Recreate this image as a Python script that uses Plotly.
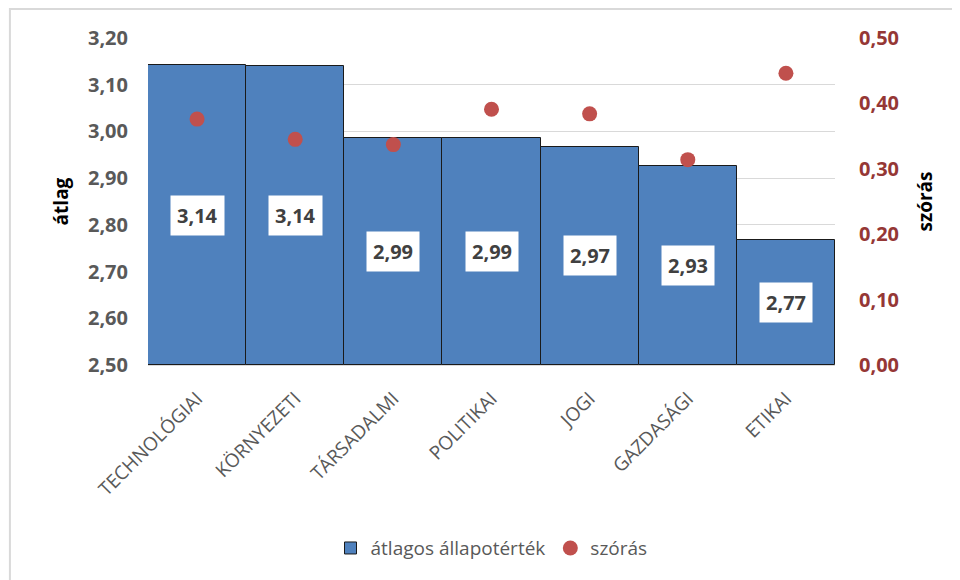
import plotly.graph_objects as go

categories = ["TECHNOLÓGIAI", "KÖRNYEZETI", "TÁRSADALMI", "POLITIKAI", "JOGI", "GAZDASÁGI", "ETIKAI"]
atlag = [3.142, 3.140, 2.987, 2.986, 2.967, 2.927, 2.767]
szoras = [0.376, 0.345, 0.337, 0.391, 0.384, 0.314, 0.446]

FONT = "Open Sans"
base = 2.5

fig = go.Figure()

fig.add_trace(go.Bar(
    x=categories,
    y=[v - base for v in atlag],
    base=base,
    name="átlagos állapotérték",
    marker=dict(color="#4F81BD", line=dict(color="#1a1a1a", width=1)),
    hoverinfo="skip",
))

fig.add_trace(go.Scatter(
    x=categories,
    y=szoras,
    mode="markers",
    name="szórás",
    marker=dict(size=15, color="#C0504D"),
    yaxis="y2",
))

# value labels in white boxes, centred in the bar
for c, v in zip(categories, atlag):
    fig.add_annotation(
        x=c, y=(base + v) / 2,
        xref="x", yref="y",
        text=f"{v:.2f}".replace(".", ","),
        showarrow=False,
        bgcolor="white",
        borderpad=6,
        font=dict(family=FONT, size=20, color="#404040", weight="bold"),
    )

# outer chart frame
fig.add_shape(
    type="rect", xref="paper", yref="paper",
    x0=-0.201, x1=1.4, y0=-1.0, y1=1.089,
    line=dict(color="#D9D9D9", width=2),
    layer="below",
)

fig.update_layout(
    width=960, height=580,
    margin=dict(l=140, r=133, t=30, b=223),
    paper_bgcolor="white",
    plot_bgcolor="white",
    separators=", ",
    bargap=0,
    font=dict(family=FONT, color="#595959"),
    xaxis=dict(
        tickangle=-45,
        tickfont=dict(size=19, color="#595959"),
        showline=True, linecolor="#D9D9D9", linewidth=1,
        ticks="",
        ticklabelstandoff=14,
    ),
    yaxis=dict(
        range=[2.5, 3.2], dtick=0.1, tickformat=".2f",
        showgrid=True, gridcolor="#D9D9D9", gridwidth=1,
        zeroline=False,
        tickfont=dict(size=20, color="#595959", weight="bold"),
        ticklabelstandoff=19,
        title=dict(text="átlag", font=dict(size=19, color="black", weight="bold"), standoff=14),
    ),
    yaxis2=dict(
        range=[0, 0.5], dtick=0.1, tickformat=".2f",
        overlaying="y", side="right",
        showgrid=False, zeroline=False,
        tickfont=dict(size=20, color="#953735", weight="bold"),
        ticklabelstandoff=23,
        title=dict(text="szórás", font=dict(size=19, color="black", weight="bold"), standoff=20),
    ),
    legend=dict(
        orientation="h",
        x=0.5, xanchor="center",
        y=-0.56, yanchor="middle",
        font=dict(size=19, color="#595959"),
        itemwidth=30,
    ),
    showlegend=True,
)

fig.write_html("out.html")
